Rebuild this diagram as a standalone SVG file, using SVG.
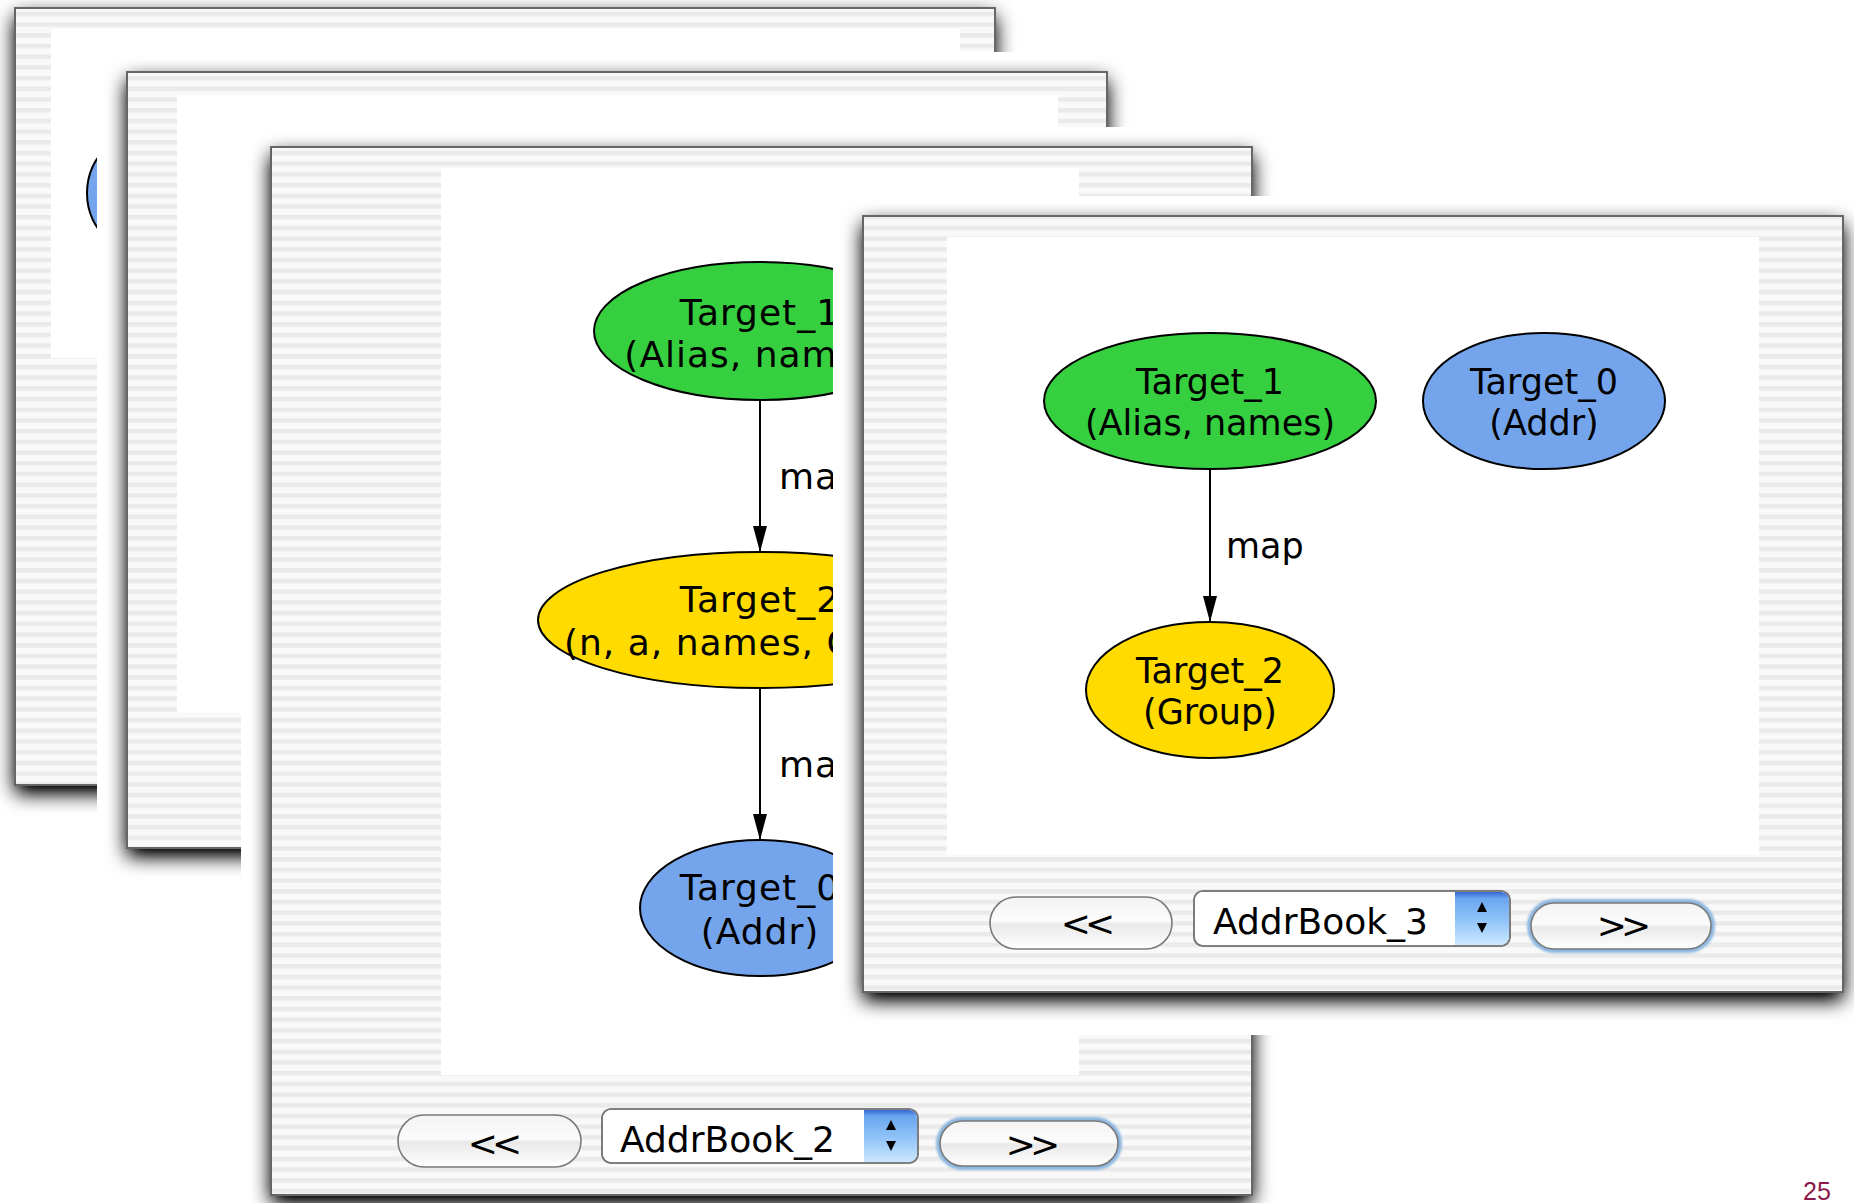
<svg xmlns="http://www.w3.org/2000/svg" width="1854" height="1203" viewBox="0 0 1854 1203">
  <defs>
    <!-- Aqua pinstripe window background -->
    <pattern id="pinstripe" patternUnits="userSpaceOnUse" width="20" height="10.7">
      <rect width="20" height="10.7" fill="#f9f9f9"/>
      <rect y="1" width="20" height="4.4" fill="#eaeaea"/>
    </pattern>
    <!-- soft drop shadow under each window -->
    <filter id="winShadow" x="-6%" y="-6%" width="112%" height="114%">
      <feGaussianBlur in="SourceAlpha" stdDeviation="10"/>
      <feOffset dy="8"/>
      <feComponentTransfer><feFuncA type="linear" slope="1.2"/></feComponentTransfer>
    </filter>
    <filter id="glow" x="-10%" y="-30%" width="120%" height="160%">
      <feGaussianBlur stdDeviation="1.3"/>
    </filter>
    <linearGradient id="aquaBtn" x1="0" y1="0" x2="0" y2="1">
      <stop offset="0" stop-color="#f3f3f3"/>
      <stop offset="0.46" stop-color="#fcfcfc"/>
      <stop offset="0.52" stop-color="#e9e9e9"/>
      <stop offset="1" stop-color="#ffffff"/>
    </linearGradient>
    <linearGradient id="popBlue" x1="0" y1="0" x2="0" y2="1">
      <stop offset="0" stop-color="#3567d2"/>
      <stop offset="0.12" stop-color="#6aa5ef"/>
      <stop offset="0.5" stop-color="#8dc1f7"/>
      <stop offset="1" stop-color="#cbe8ff"/>
    </linearGradient>
    <marker id="arrow" markerUnits="userSpaceOnUse" markerWidth="26" markerHeight="14" refX="26" refY="7" orient="auto">
      <path d="M0,0 L26,7 L0,14 Z" fill="#000"/>
    </marker>
    <style>
      .mat { fill: #ffffff; }
      .shadow { fill: #000; filter: url(#winShadow); }
      .frame { fill: url(#pinstripe); stroke: #666; stroke-width: 2; }
      .panel { fill: #ffffff; }
      .node ellipse { stroke: #000; stroke-width: 2; }
      .green { fill: #36cf40; }
      .blue { fill: #74a5ec; }
      .yellow { fill: #ffdb00; }
      .lbl { font-family: "DejaVu Sans", "Noto Sans", sans-serif; fill: #000; }
      .w4 .lbl { font-size: 35px; }
      .w3 .lbl { font-size: 36px; letter-spacing: 1px; }
      .node .lbl { text-anchor: middle; }
      .edge { stroke: #000; stroke-width: 2; fill: none; marker-end: url(#arrow); }
      .btn { fill: url(#aquaBtn); stroke: #7a7a7a; stroke-width: 1.6; }
      .ring { fill: none; stroke: #8db7e0; stroke-width: 6; filter: url(#glow); }
      .popup { fill: #ffffff; stroke: #777; stroke-width: 1.6; }
      .popblue { fill: url(#popBlue); }
      .ctl { font-family: "DejaVu Sans", "Noto Sans", sans-serif; font-size: 36px; fill: #000; }
      .chev { text-anchor: middle; letter-spacing: -6px; }
      .pageno { font-family: "Liberation Sans", Arial, sans-serif; font-size: 25px; fill: #8b1a4b; }
    </style>
  </defs>

  <rect width="1854" height="1203" fill="#ffffff"/>

  <!-- Window 1 (back) -->
  <g id="window1">
    <rect class="mat" x="-16" y="-12" width="1041" height="840"/>
    <rect class="shadow" x="15" y="8" width="980" height="777"/>
    <rect class="frame" x="15" y="8" width="980" height="777"/>
    <rect class="panel" x="51" y="29" width="909" height="329"/>
    <g id="w1-target0" class="node">
      <ellipse class="blue" cx="162" cy="193" rx="75" ry="68"/>
    </g>
  </g>

  <!-- Window 2 -->
  <g id="window2">
    <rect class="mat" x="97" y="52" width="1040" height="839"/>
    <rect class="shadow" x="127" y="72" width="980" height="776"/>
    <rect class="frame" x="127" y="72" width="980" height="776"/>
    <rect class="panel" x="177" y="95" width="881" height="618"/>
  </g>

  <!-- Window 3: AddrBook_2 -->
  <g id="window3" class="w3">
    <rect class="mat" x="241" y="127" width="1041" height="1110"/>
    <rect class="shadow" x="271" y="147" width="981" height="1048"/>
    <rect class="frame" x="271" y="147" width="981" height="1048"/>
    <rect class="panel" x="441" y="168" width="638" height="907"/>

    <g id="w3-edges">
      <line class="edge" x1="760" y1="400" x2="760" y2="552"/>
      <text class="lbl" x="779" y="489">map</text>
      <line class="edge" x1="760" y1="688" x2="760" y2="840"/>
      <text class="lbl" x="779" y="777">map</text>
    </g>
    <g id="w3-target1" class="node">
      <ellipse class="green" cx="760" cy="331" rx="166" ry="69"/>
      <text class="lbl" x="760" y="325">Target_1</text>
      <text class="lbl" x="760" y="367">(Alias, names)</text>
    </g>
    <g id="w3-target2" class="node">
      <ellipse class="yellow" cx="760" cy="620" rx="222" ry="68"/>
      <text class="lbl" x="760" y="612">Target_2</text>
      <text class="lbl" x="760" y="655">(n, a, names, Group)</text>
    </g>
    <g id="w3-target0" class="node">
      <ellipse class="blue" cx="760" cy="908" rx="120" ry="68"/>
      <text class="lbl" x="760" y="900">Target_0</text>
      <text class="lbl" x="760" y="944">(Addr)</text>
    </g>

    <g id="w3-controls">
      <rect class="btn" x="398" y="1115" width="183" height="52" rx="26"/>
      <text class="ctl chev" x="492" y="1156">&lt;&lt;</text>
      <rect class="popup" x="602" y="1109" width="316" height="54" rx="9"/>
      <path class="popblue" d="M864,1110 H909 a8,8 0 0 1 8,8 V1154 a8,8 0 0 1 -8,8 H864 Z"/>
      <rect x="602" y="1109" width="316" height="54" rx="9" fill="none" stroke="#777" stroke-width="1.6"/>
      <path d="M886,1130 L891,1120 L896,1130 Z M886,1141 L891,1151 L896,1141 Z" fill="#000"/>
      <text class="ctl" x="620" y="1152">AddrBook_2</text>
      <rect class="ring" x="939" y="1120" width="180" height="47" rx="23.5"/>
      <rect class="btn" x="940" y="1121" width="178" height="45" rx="22.5" stroke="#6f9bc8"/>
      <text class="ctl chev" x="1030" y="1157">&gt;&gt;</text>
    </g>
  </g>

  <!-- Window 4 (front): AddrBook_3 -->
  <g id="window4" class="w4">
    <rect class="mat" x="833" y="196" width="1040" height="839"/>
    <rect class="shadow" x="863" y="216" width="980" height="776"/>
    <rect class="frame" x="863" y="216" width="980" height="776"/>
    <rect class="panel" x="947" y="237" width="812" height="618"/>

    <g id="w4-edges">
      <line class="edge" x1="1210" y1="469" x2="1210" y2="622"/>
      <text class="lbl" x="1226" y="558">map</text>
    </g>
    <g id="w4-target1" class="node">
      <ellipse class="green" cx="1210" cy="401" rx="166" ry="68"/>
      <text class="lbl" x="1210" y="394">Target_1</text>
      <text class="lbl" x="1210" y="435">(Alias, names)</text>
    </g>
    <g id="w4-target0" class="node">
      <ellipse class="blue" cx="1544" cy="401" rx="121" ry="68"/>
      <text class="lbl" x="1544" y="394">Target_0</text>
      <text class="lbl" x="1544" y="435">(Addr)</text>
    </g>
    <g id="w4-target2" class="node">
      <ellipse class="yellow" cx="1210" cy="690" rx="124" ry="68"/>
      <text class="lbl" x="1210" y="683">Target_2</text>
      <text class="lbl" x="1210" y="724">(Group)</text>
    </g>

    <g id="w4-controls">
      <rect class="btn" x="990" y="897" width="182" height="52" rx="26"/>
      <text class="ctl chev" x="1085" y="936">&lt;&lt;</text>
      <rect class="popup" x="1194" y="891" width="316" height="55" rx="9"/>
      <path class="popblue" d="M1455,892 H1501 a8,8 0 0 1 8,8 V937 a8,8 0 0 1 -8,8 H1455 Z"/>
      <rect x="1194" y="891" width="316" height="55" rx="9" fill="none" stroke="#777" stroke-width="1.6"/>
      <path d="M1477,912 L1482,902 L1487,912 Z M1477,923 L1482,933 L1487,923 Z" fill="#000"/>
      <text class="ctl" x="1213" y="934">AddrBook_3</text>
      <rect class="ring" x="1530" y="902" width="182" height="48" rx="24"/>
      <rect class="btn" x="1531" y="903" width="180" height="46" rx="23" stroke="#6f9bc8"/>
      <text class="ctl chev" x="1621" y="938">&gt;&gt;</text>
    </g>
  </g>

  <text class="pageno" x="1803" y="1200">25</text>
</svg>
